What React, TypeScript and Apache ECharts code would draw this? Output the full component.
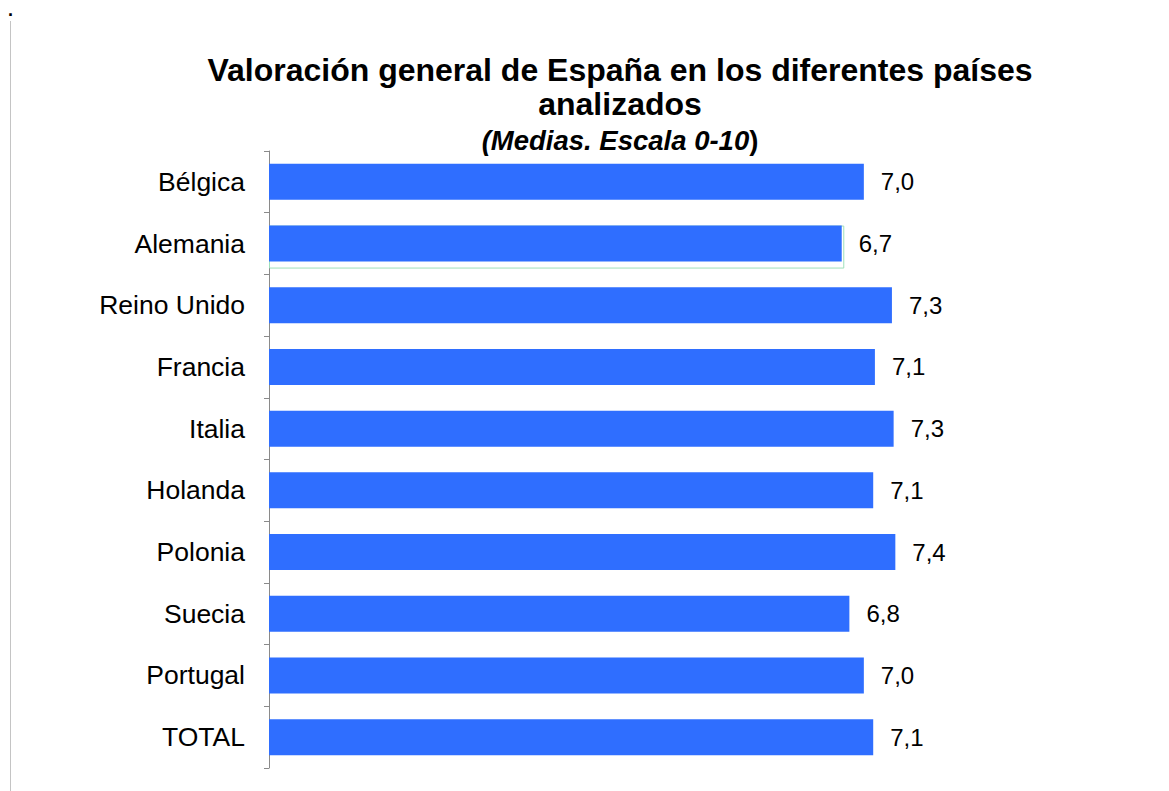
import React, { useEffect, useRef } from "react";
import * as echarts from "echarts";

const categories = [
  "Bélgica",
  "Alemania",
  "Reino Unido",
  "Francia",
  "Italia",
  "Holanda",
  "Polonia",
  "Suecia",
  "Portugal",
  "TOTAL",
];
const values = [6.99, 6.73, 7.32, 7.12, 7.34, 7.1, 7.36, 6.82, 6.99, 7.1];
const titleLines = ["Valoración general de España en los diferentes países", "analizados"];
const subtitleMain = "(Medias. Escala 0-10";
const subtitleEnd = ")";
const highlighted = "Alemania";

const FONT = "'Liberation Sans', Arial, Helvetica, sans-serif";

export default function App() {
  const ref = useRef<HTMLDivElement>(null);
  useEffect(() => {
    if (!ref.current) return;
    const chart = echarts.init(ref.current, undefined, { renderer: "svg" });
    const hiIdx = categories.indexOf(highlighted);
    const outlineData = values.map((v, i) => (i === hiIdx ? v + 0.03 : null));
    chart.setOption({
      animation: false,
      backgroundColor: "#ffffff",
      textStyle: { fontFamily: FONT },
      grid: { left: 269, right: 49, top: 151, bottom: 23, containLabel: false },
      xAxis: {
        type: "value",
        min: 0,
        max: 10,
        show: false,
        splitLine: { show: false },
      },
      yAxis: {
        type: "category",
        data: categories,
        inverse: true,
        axisLine: { show: true, lineStyle: { color: "#8a8a8a", width: 1 } },
        axisTick: { show: true, length: 5, lineStyle: { color: "#8a8a8a" } },
        axisLabel: {
          color: "#000000",
          fontSize: 26.5,
          fontFamily: FONT,
          margin: 24,
        },
      },
      graphic: [
        {
          type: "line",
          shape: { x1: 10.5, y1: 21, x2: 10.5, y2: 791 },
          style: { stroke: "#c4c4c4", lineWidth: 1 },
          silent: true,
        },
        {
          type: "text",
          x: 8,
          y: 10,
          style: { text: ".", fill: "#000", fontSize: 18, fontFamily: FONT, fontWeight: "bold", verticalAlign: "middle" },
        },
        {
          type: "text",
          x: 620,
          y: 70,
          style: {
            text: titleLines[0],
            textAlign: "center",
            verticalAlign: "middle",
            fill: "#000",
            fontSize: 32,
            fontWeight: "bold",
            fontFamily: FONT,
          },
        },
        {
          type: "text",
          x: 620,
          y: 104,
          style: {
            text: titleLines[1],
            textAlign: "center",
            verticalAlign: "middle",
            fill: "#000",
            fontSize: 32,
            fontWeight: "bold",
            fontFamily: FONT,
          },
        },
        {
          type: "text",
          x: 620,
          y: 140,
          style: {
            text: "{i|" + subtitleMain + "}{b|" + subtitleEnd + "}",
            textAlign: "center",
            verticalAlign: "middle",
            fill: "#000",
            rich: {
              i: { fontSize: 27.5, fontWeight: "bold", fontStyle: "italic", fontFamily: FONT, fill: "#000" },
              b: { fontSize: 27.5, fontWeight: "bold", fontFamily: FONT, fill: "#000" },
            },
          },
        },
      ],
      series: [
        {
          type: "bar",
          data: outlineData,
          barWidth: 43,
          barGap: "-100%",
          silent: true,
          z: 1,
          itemStyle: { color: "rgba(0,0,0,0)", borderColor: "#9fe0bb", borderWidth: 1 },
          label: { show: false },
        },
        {
          type: "bar",
          data: values,
          barWidth: 36,
          z: 2,
          itemStyle: { color: "#2f6eff" },
          label: {
            show: true,
            position: "right",
            distance: 17,
            color: "#000",
            fontSize: 24,
            fontFamily: FONT,
            formatter: (p: any) => Number(p.value).toFixed(1).replace(".", ","),
          },
        },
      ],
    });
    return () => chart.dispose();
  }, []);
  return (
    <div
      ref={ref}
      style={{ position: "absolute", left: 0, top: 0, width: 1169, height: 791 }}
    />
  );
}
